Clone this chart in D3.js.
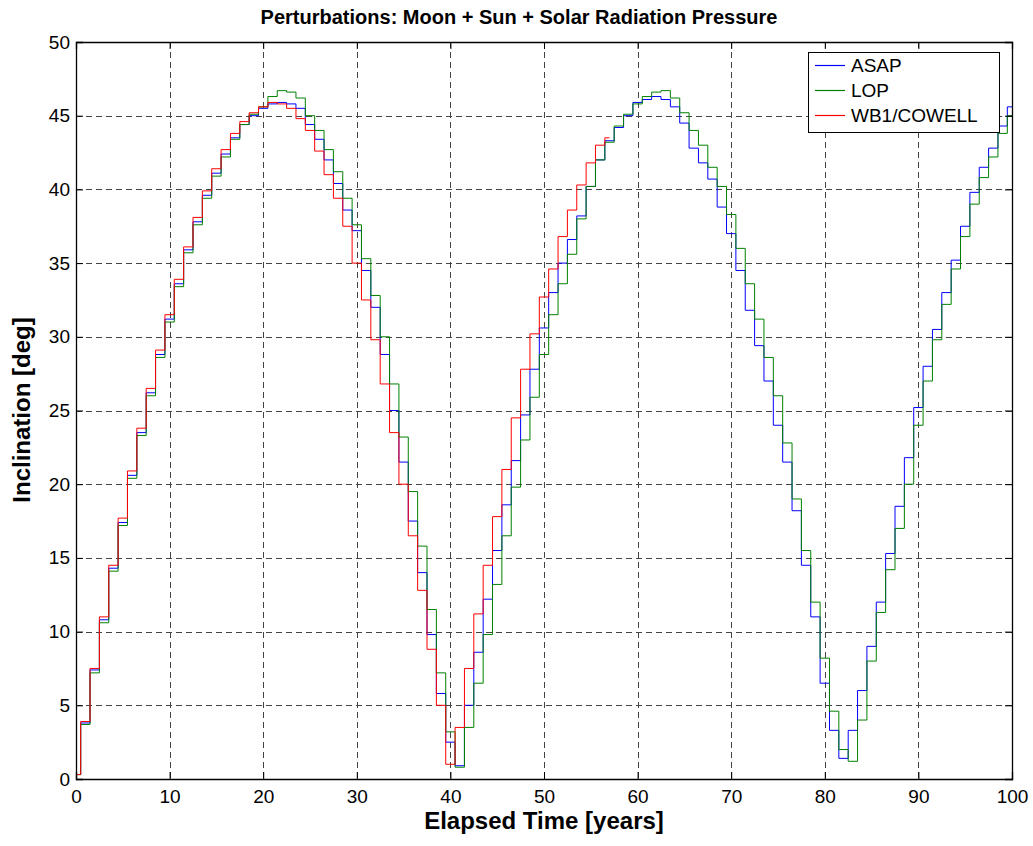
<!DOCTYPE html>
<html>
<head>
<meta charset="utf-8">
<script src="https://cdn.jsdelivr.net/npm/d3@7"></script>
<style>
  html, body { margin: 0; padding: 0; background: #fff; }
  svg text { font-family: Arial, "Liberation Sans", Helvetica, sans-serif; }
</style>
</head>
<body>
<svg id="chart" width="1033" height="846"></svg>
<script>
const years = d3.range(0, 101);
const xTicks = [0, 10, 20, 30, 40, 50, 60, 70, 80, 90, 100];
const yTicks = [0, 5, 10, 15, 20, 25, 30, 35, 40, 45, 50];
const seriesNames = ["ASAP", "LOP", "WB1/COWELL"];
const seriesColors = ["#0000ff", "#008000", "#ff0000"];

const asap = [
  0.3, 3.8, 7.4, 10.8, 14.3, 17.4, 20.6, 23.5, 26.2, 28.8,
  31.2, 33.6, 35.9, 37.8, 39.6, 41.1, 42.4, 43.5, 44.4, 45.0,
  45.5, 45.8, 45.9, 45.8, 45.5, 44.4, 43.4, 42.0, 40.4, 38.6,
  37.2, 34.5, 32.0, 28.8, 25.0, 21.5, 17.5, 14.0, 9.8, 5.8,
  2.5, 0.9, 5.0, 8.6, 12.2, 15.5, 18.6, 21.6, 24.7, 27.8,
  30.6, 33.0, 35.0, 36.6, 38.2, 40.2, 42.0, 43.3, 44.2, 45.0,
  45.9, 46.1, 46.3, 46.1, 45.6, 44.5, 42.8, 41.8, 40.7, 38.8,
  37.0, 34.5, 31.8, 29.4, 27.0, 24.0, 21.5, 18.2, 14.5, 11.0,
  6.5, 3.3, 1.4, 3.3, 6.0, 9.0, 12.0, 15.3, 18.5, 21.8,
  25.2, 28.0, 30.5, 33.0, 35.2, 37.5, 39.8, 41.5, 42.8, 44.3,
  45.6
];
const lop = [
  0.3, 3.7, 7.2, 10.6, 14.1, 17.2, 20.4, 23.3, 26.0, 28.6,
  31.0, 33.4, 35.7, 37.6, 39.4, 40.9, 42.2, 43.4, 44.4, 45.1,
  45.6, 46.3, 46.7, 46.6, 46.2, 45.0, 44.0, 42.7, 41.2, 39.4,
  37.6, 35.3, 32.8, 30.0, 26.8, 23.2, 19.5, 15.8, 11.5, 7.2,
  3.2, 0.8, 3.5, 6.5, 9.8, 13.2, 16.5, 19.8, 23.0, 25.9,
  28.8, 31.5, 33.6, 35.6, 38.0, 40.2, 42.0, 43.2, 44.3, 45.1,
  45.8, 46.3, 46.6, 46.7, 46.2, 45.2, 44.0, 43.0, 41.5, 40.2,
  38.3, 36.0, 33.6, 31.2, 28.6, 26.0, 22.8, 19.0, 15.5, 12.0,
  8.2, 4.6, 2.0, 1.2, 4.0, 8.0, 11.3, 14.2, 17.0, 20.0,
  24.0, 27.0, 29.8, 32.2, 34.6, 36.8, 39.0, 40.8, 42.2, 43.8,
  45.0
];
const wb1 = [
  0.3, 3.9, 7.5, 11.0, 14.5, 17.7, 20.9, 23.8, 26.5, 29.1,
  31.5, 33.9, 36.1, 38.1, 39.9, 41.4, 42.7, 43.8, 44.6, 45.2,
  45.6, 45.9, 45.8, 45.5, 44.8, 44.0, 42.6, 41.0, 39.4, 37.5,
  35.0, 32.5, 29.8, 26.8, 23.5, 20.0, 16.5, 12.8, 8.8, 5.0,
  1.0, 3.5, 7.5, 11.2, 14.5, 17.8, 21.0, 24.5, 27.8, 30.2,
  32.7, 34.6, 36.8, 38.6, 40.3, 41.8, 43.0, 43.5
];
const seriesValues = [asap, lop, wb1];

// ---- layout ----
const svg = d3.select("#chart");
const W = 1033, H = 846;
const x0 = 76, x1 = 1012, yTop = 42, yBot = 779;

svg.append("rect").attr("width", W).attr("height", H).attr("fill", "#fff");

const x = d3.scaleLinear().domain([0, 100]).range([x0, x1]);
const y = d3.scaleLinear().domain([0, 50]).range([yBot, yTop]);

// grid
const grid = svg.append("g").attr("stroke", "#444").attr("stroke-width", 1)
  .attr("stroke-dasharray", "6,4").attr("fill", "none");
xTicks.slice(1, -1).forEach(t => {
  grid.append("line").attr("x1", Math.round(x(t)) + 0.5).attr("x2", Math.round(x(t)) + 0.5)
    .attr("y1", yTop).attr("y2", yBot);
});
yTicks.slice(1, -1).forEach(t => {
  grid.append("line").attr("y1", Math.round(y(t)) + 0.5).attr("y2", Math.round(y(t)) + 0.5)
    .attr("x1", x0).attr("x2", x1);
});

// series
const line = d3.line()
  .x((d, i) => x(years[i]))
  .y(d => y(d))
  .curve(d3.curveStep);

seriesValues.forEach((vals, k) => {
  svg.append("path")
    .attr("d", line(vals))
    .attr("fill", "none")
    .attr("stroke", seriesColors[k])
    .attr("stroke-width", 1);
});

// axes
const fs = 19;
const axB = d3.axisBottom(x).tickValues(xTicks).tickSize(-7).tickPadding(11).tickFormat(d3.format("d"));
const axL = d3.axisLeft(y).tickValues(yTicks).tickSize(-7).tickPadding(6).tickFormat(d3.format("d"));
const axT = d3.axisTop(x).tickValues(xTicks).tickSize(-7).tickFormat("");
const axR = d3.axisRight(y).tickValues(yTicks).tickSize(-7).tickFormat("");

function styleAxis(g) {
  g.selectAll("path").attr("stroke", "#000").attr("stroke-width", 1.3);
  g.selectAll("line").attr("stroke", "#000");
  g.selectAll("text").attr("font-size", fs).attr("fill", "#000");
}
svg.append("g").attr("transform", `translate(0,${yBot})`).call(axB).call(styleAxis);
svg.append("g").attr("transform", `translate(${x0},0)`).call(axL).call(styleAxis);
svg.append("g").attr("transform", `translate(0,${yTop})`).call(axT).call(styleAxis);
svg.append("g").attr("transform", `translate(${x1},0)`).call(axR).call(styleAxis);
svg.selectAll(".domain").attr("fill", "none");

// titles
svg.append("text").attr("x", 519).attr("y", 24).attr("text-anchor", "middle")
  .attr("font-size", 20).attr("font-weight", "bold")
  .text("Perturbations: Moon + Sun + Solar Radiation Pressure");
svg.append("text").attr("x", 544).attr("y", 829).attr("text-anchor", "middle")
  .attr("font-size", 24).attr("font-weight", "bold")
  .text("Elapsed Time [years]");
svg.append("text").attr("transform", "translate(30,410) rotate(-90)").attr("text-anchor", "middle")
  .attr("font-size", 24).attr("font-weight", "bold")
  .text("Inclination [deg]");

// legend
const lg = svg.append("g");
lg.append("rect").attr("x", 808.5).attr("y", 52.5).attr("width", 191).attr("height", 80)
  .attr("fill", "#fff").attr("stroke", "#000").attr("stroke-width", 1);
seriesNames.forEach((name, k) => {
  const cy = 65.5 + k * 25;
  lg.append("line").attr("x1", 815).attr("x2", 845).attr("y1", cy).attr("y2", cy)
    .attr("stroke", seriesColors[k]).attr("stroke-width", 1.2);
  lg.append("text").attr("x", 851).attr("y", cy).attr("dy", "0.35em")
    .attr("font-size", 19).text(name);
});
</script>
</body>
</html>
